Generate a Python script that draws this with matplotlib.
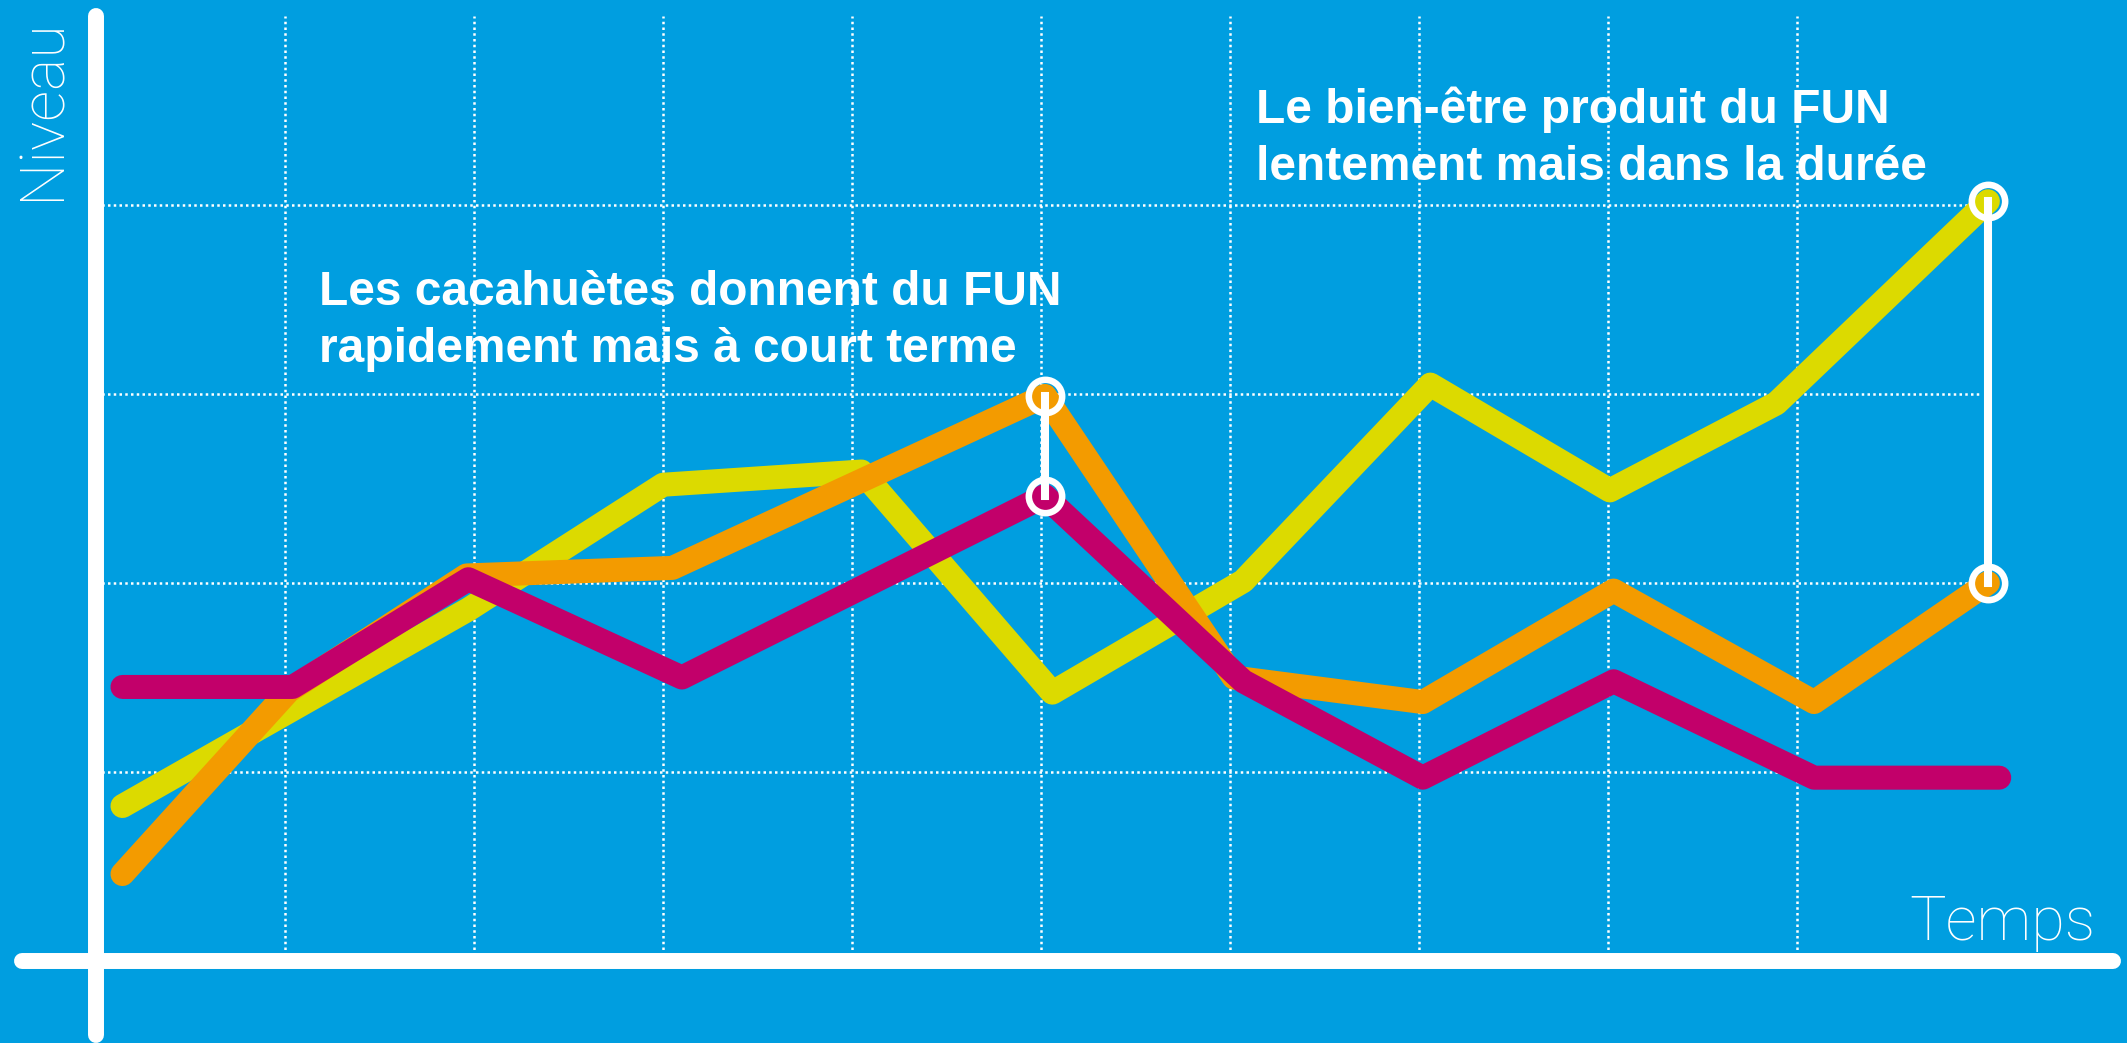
import matplotlib
matplotlib.use('Agg')
import matplotlib.pyplot as plt

# couleurs
bleu = '#009EE0'
jaune = '#DCDA00'
orange = '#F39B00'
magenta = '#C2006A'

# courbes (x en cases de grille, y en niveau)
x_jaune = [0.14, 1.97, 3.00, 4.05, 5.06, 6.07, 7.06, 8.01, 8.89, 10.01]
y_jaune = [0.82, 1.86, 2.52, 2.59, 1.42, 2.01, 3.05, 2.49, 2.95, 4.02]

x_orange = [0.14, 1.02, 1.96, 3.05, 5.02, 6.02, 7.02, 8.03, 9.09, 10.01]
y_orange = [0.46, 1.43, 2.04, 2.08, 2.99, 1.50, 1.37, 1.96, 1.37, 2.00]

x_magenta = [0.14, 1.04, 1.97, 3.10, 5.02, 6.07, 7.02, 8.03, 9.09, 10.07]
y_magenta = [1.45, 1.45, 2.02, 1.50, 2.46, 1.48, 0.97, 1.48, 0.97, 0.97]

# écarts marqués par un trait blanc
ecart1_x = 5.02
ecart1_y = [2.99, 2.46]
ecart2_x = 10.01
ecart2_y = [4.02, 2.00]

grille_x = [1, 2, 3, 4, 5, 6, 7, 8, 9]
grille_y = [1, 2, 3, 4]

texte1 = ['Les cacahuètes donnent du FUN', 'rapidement mais à court terme']
texte2 = ['Le bien-être produit du FUN', 'lentement mais dans la durée']

fig = plt.figure(figsize=(21.27, 10.43), dpi=100, facecolor=bleu)
ax = fig.add_axes([0, 0, 1, 1])
ax.set_facecolor(bleu)
ax.set_xlim(-0.508, 10.746)
ax.set_ylim(-0.434, 5.085)
ax.axis('off')

# grille pointillée
ax.vlines(grille_x, 0, 5, colors='white', linewidth=1.8, linestyles=(0, (1, 1.3)), zorder=1)
ax.hlines(grille_y, 0, 9.97, colors='white', linewidth=1.8, linestyles=(0, (1, 1.3)), zorder=1)

# axes
ax.plot([0, 0], [-0.39, 5.0], color='white', lw=11.5, solid_capstyle='round', zorder=2)
ax.plot([-0.39, 10.67], [0, 0], color='white', lw=11.5, solid_capstyle='round', zorder=2)

kw = dict(lw=17.3, solid_capstyle='round', solid_joinstyle='round')
ax.plot(x_jaune, y_jaune, color=jaune, zorder=3, **kw)
ax.plot(x_orange, y_orange, color=orange, zorder=4, **kw)
ax.plot(x_magenta, y_magenta, color=magenta, zorder=5, **kw)

for ex, ey in [(ecart1_x, ecart1_y), (ecart2_x, ecart2_y)]:
    ax.plot([ex, ex], ey, color='white', lw=5.8, zorder=6)
    ax.plot([ex, ex], ey, linestyle='none', marker='o', markersize=24,
            markerfacecolor='none', markeredgecolor='white', markeredgewidth=4.7, zorder=7)

# textes
px = lambda p: (p - 97) / 189.0
py = lambda p: (961 - p) / 189.0
tkw = dict(color='white', fontsize=34.5, fontweight='bold', family='Liberation Sans',
           ha='left', va='baseline', zorder=8)
ax.text(px(320), py(305), texte1[0], **tkw)
ax.text(px(320), py(362), texte1[1], **tkw)
ax.text(px(1257), py(123), texte2[0], **tkw)
ax.text(px(1257), py(180), texte2[1], **tkw)

hkw = dict(color='white', fontsize=44, fontweight='light', family='Roboto', zorder=8)
ax.text(px(1910), py(940), 'Temps', ha='left', va='baseline', **hkw)
ax.text(px(72), py(200), 'Niveau', rotation=90, ha='right', va='bottom', **hkw)

fig.savefig('out.png', dpi=100, facecolor=bleu)
